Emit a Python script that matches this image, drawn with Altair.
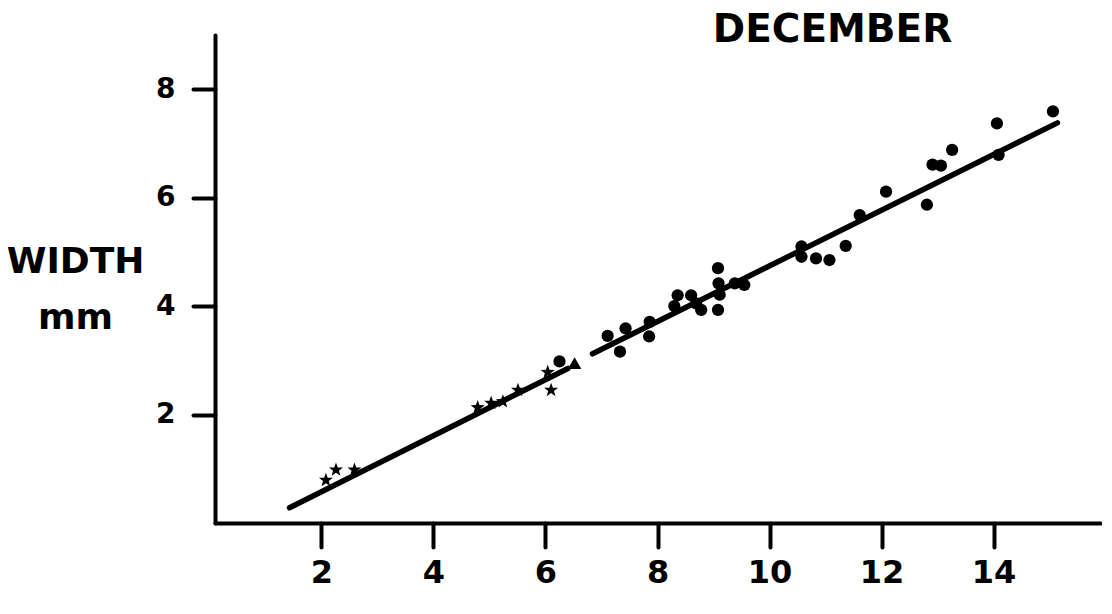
import altair as alt
import pandas as pd

# --- data ---
star_x = [2.08, 2.26, 2.59, 4.79, 5.03, 5.24, 5.51, 6.04, 6.10]
star_y = [0.79, 0.98, 0.98, 2.13, 2.21, 2.24, 2.45, 2.78, 2.45]

tri_x = [6.52]
tri_y = [2.95]

circ_x = [6.25, 7.11, 7.33, 7.43, 7.85, 7.86, 8.30, 8.36, 8.60, 8.69, 8.78,
          9.08, 9.09, 9.11, 9.08, 9.38, 9.55, 10.57, 10.57, 10.83, 11.07,
          11.36, 11.61, 12.08, 12.81, 12.91, 13.06, 13.26, 14.06, 14.09, 15.06]
circ_y = [2.98, 3.45, 3.16, 3.59, 3.44, 3.71, 4.00, 4.20, 4.20, 4.05, 3.93,
          4.70, 4.42, 4.21, 3.93, 4.42, 4.39, 5.10, 4.91, 4.88, 4.85,
          5.11, 5.68, 6.11, 5.87, 6.61, 6.59, 6.88, 7.37, 6.79, 7.59]

fit_seg = ["a", "a", "b", "b"]
fit_x = [1.43, 6.40, 6.84, 15.14]
fit_y = [0.28, 2.85, 3.12, 7.38]

x_ticks = [2, 4, 6, 8, 10, 12, 14]
y_ticks = [2, 4, 6, 8]

pts = pd.DataFrame({
    "length": star_x + tri_x + circ_x,
    "width": star_y + tri_y + circ_y,
    "kind": ["star"] * len(star_x) + ["triangle"] * len(tri_x) + ["circle"] * len(circ_x),
})
fit = pd.DataFrame({"seg": fit_seg, "length": fit_x, "width": fit_y})

FONT = "DejaVu Sans"
STAR = ("M0,-1L0.24,-0.33L0.95,-0.31L0.39,0.12L0.59,0.81L0,0.4"
        "L-0.59,0.81L-0.39,0.12L-0.95,-0.31L-0.24,-0.33Z")

xs = alt.Scale(domain=[0.1, 15.9], nice=False, zero=False)
ys = alt.Scale(domain=[0, 9], nice=False, zero=False)

x_axis = alt.Axis(values=x_ticks, format="d", title=None, grid=False, labelFontSize=32,
                  labelFontWeight="bold", labelFont=FONT, labelColor="black",
                  labelPadding=10, tickSize=24, tickWidth=4, tickColor="black",
                  domainWidth=4, domainColor="black", domainCap="round",
                  tickCap="round")
y_axis = alt.Axis(values=y_ticks, format="d", title=["WIDTH", "mm"], grid=False,
                  labelFontSize=28, labelFontWeight="bold", labelFont=FONT,
                  labelColor="black", labelPadding=18, tickSize=22, tickWidth=4,
                  tickColor="black", domainWidth=4, domainColor="black",
                  domainCap="round", tickCap="round",
                  titleAngle=0, titleFont=FONT, titleFontSize=36,
                  titleFontWeight="bold", titleColor="black",
                  titleAlign="center", titleBaseline="alphabetic",
                  titleX=-140, titleY=237, titleLineHeight=56)

line = alt.Chart(fit).mark_line(color="black", strokeWidth=5.5, strokeCap="round").encode(
    x=alt.X("length:Q", scale=xs, axis=x_axis),
    y=alt.Y("width:Q", scale=ys, axis=y_axis),
    detail="seg:N",
)

points = alt.Chart(pts).mark_point(filled=True, color="black", opacity=1).encode(
    x=alt.X("length:Q", scale=xs),
    y=alt.Y("width:Q", scale=ys),
    shape=alt.Shape("kind:N", scale=alt.Scale(domain=["star", "triangle", "circle"],
                                               range=[STAR, "triangle-up", "circle"]),
                    legend=None),
    size=alt.Size("kind:N", scale=alt.Scale(domain=["star", "triangle", "circle"],
                                             range=[220, 150, 210]),
                  legend=None),
)

chart = alt.layer(line, points).properties(
    width=885, height=488,
    autosize=alt.AutoSizeParams(type="none"),
    padding={"left": 207, "top": 27, "right": 2, "bottom": 80},
    background="white",
    title=alt.TitleParams("DECEMBER", font=FONT, fontSize=39, fontWeight="bold",
                          color="black", anchor="middle", frame="group",
                          baseline="alphabetic", offset=0, dx=175, dy=46),
).configure_view(strokeWidth=0)

chart.save("out.html", embed_options={"renderer": "svg", "actions": False})
